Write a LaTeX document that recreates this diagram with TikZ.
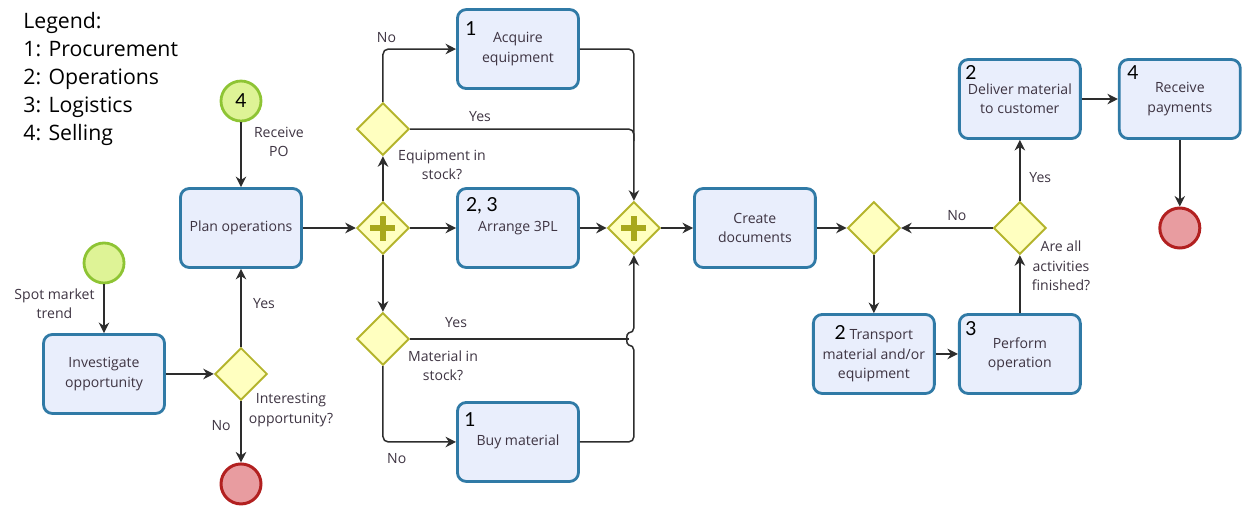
\documentclass[tikz,border=0pt]{standalone}
\usepackage{fontspec}
\setmainfont{Open Sans}
\newfontfamily\legendfont{Lato}
\usetikzlibrary{positioning, arrows.meta, shapes.geometric, calc}

\definecolor{taskfill}{RGB}{233,238,252}
\definecolor{taskline}{RGB}{48,122,166}
\definecolor{gatefill}{RGB}{255,255,192}
\definecolor{gateline}{RGB}{180,180,44}
\definecolor{plusc}{RGB}{168,168,28}
\definecolor{startfill}{RGB}{222,243,150}
\definecolor{startline}{RGB}{142,196,52}
\definecolor{endfill}{RGB}{232,156,160}
\definecolor{endline}{RGB}{178,32,32}
\definecolor{txt}{RGB}{62,52,66}
\definecolor{flowc}{RGB}{45,45,45}

\newcommand{\tasknum}[1]{{\legendfont\fontsize{11}{12}\selectfont\color{black}#1}}

\begin{document}
\begin{tikzpicture}[
    x=0.02cm, y=-0.02cm,
    on grid,
    task/.style={
        rectangle,
        rounded corners=5pt,
        draw=taskline,
        fill=taskfill,
        line width=1.6pt,
        minimum width=2.42cm,
        minimum height=1.58cm,
        align=center,
        text=txt,
        font=\fontsize{8}{11}\selectfont
    },
    gate/.style={
        diamond,
        draw=gateline,
        fill=gatefill,
        line width=1.1pt,
        minimum width=1.05cm,
        minimum height=1.05cm,
        inner sep=0pt
    },
    plusgate/.style={
        gate,
        path picture={
            \draw[plusc, line width=3.6pt]
            ([xshift=-0.25cm]path picture bounding box.center) -- ([xshift=0.25cm]path picture bounding box.center)
            ([yshift=-0.25cm]path picture bounding box.center) -- ([yshift=0.25cm]path picture bounding box.center);
        }
    },
    startev/.style={
        circle,
        draw=startline,
        fill=startfill,
        line width=1.6pt,
        minimum size=0.8cm,
        inner sep=0pt
    },
    endev/.style={
        circle,
        draw=endline,
        fill=endfill,
        line width=1.7pt,
        minimum size=0.8cm,
        inner sep=0pt
    },
    num/.style={
        inner sep=0pt,
        font=\legendfont\fontsize{11}{12}\selectfont
    },
    lbl/.style={
        inner sep=1pt,
        align=center,
        text=txt,
        font=\fontsize{8}{11}\selectfont
    },
    flow/.style={
        draw=flowc,
        line width=0.85pt,
        rounded corners=3pt,
        -{Stealth[length=6pt, width=6pt]}
    },
    line/.style={
        draw=flowc,
        line width=0.85pt,
        rounded corners=3pt
    }
]

\useasboundingbox (0,0) rectangle (1244,507);

% legend
\node[anchor=north west, inner sep=0pt, align=left,
      font=\fontsize{12.1}{15.9}\selectfont] (legend) at (23,12)
    {Legend:\\1: Procurement\\2: Operations\\3: Logistics\\4: Selling};

% start of the process
\node[task] (plan) at (241,228) {Plan operations};
\node[startev, above=2.54cm of plan] (st4) {\tasknum{4}};
\node[gate, below=2.92cm of plan] (gint) {};
\node[endev, below=2.2cm of gint] (endA) {};
\node[task, left=2.74cm of gint] (inv) {Investigate\\opportunity};
\node[startev, above=2.22cm of inv] (st0) {};

% parallel part
\node[plusgate, right=2.84cm of plan] (pg1) {};
\node[gate, above=1.98cm of pg1] (geq) {};
\node[task, above right=1.6cm and 2.7cm of geq] (acq) {Acquire\\equipment};
\node[task, right=2.7cm of pg1] (a3pl) {Arrange 3PL};
\node[gate, below=2.22cm of pg1] (gmat) {};
\node[task, below right=2.06cm and 2.7cm of gmat] (buy) {Buy material};
\node[plusgate, right=2.32cm of a3pl] (pg2) {};

% task numbers
\node[num] (acqn) at ([shift={(15,20)}]acq.north west) {1};
\node[num] (a3pln) at ([shift={(26,19)}]a3pl.north west) {2, 3};
\node[num] (buyn) at ([shift={(14,18)}]buy.north west) {1};

% gateway questions
\node[lbl] (gintq) at (291,410) {Interesting\\opportunity?};
\node[lbl] (geqq) at (442,165) {Equipment in\\stock?};
\node[lbl] (gmatq) at (443,366) {Material in\\stock?};

% end part
\node[task, right=2.42cm of pg2] (cdoc) {Create\\documents};
\node[gate, right=2.38cm of cdoc] (gmg) {};
\node[gate, right=2.92cm of gmg] (gfin) {};
\node[task, below=2.52cm of gfin] (perf) {Perform\\operation};
\node[task, left=2.92cm of perf] (trn) {\tasknum{2} Transport\\material and/or\\equipment};
\node[task, above=2.58cm of gfin] (del) {Deliver material\\to customer};
\node[task, right=3.2cm of del] (rcv) {Receive\\payments};
\node[endev, below=2.58cm of rcv] (endB) {};

\node[num] (perfn) at ([shift={(13,15)}]perf.north west) {3};
\node[num] (deln) at ([shift={(13,14)}]del.north west) {2};
\node[num] (rcvn) at ([shift={(15,14)}]rcv.north west) {4};
\node[lbl] (gfinq) at (1061,266) {Are all\\activities\\finished?};

% joins on the right of the parallel part
\coordinate (jeq) at ($(pg2.north |- geq.east)+(0,12)$);
\coordinate (hopT) at ($(pg2.south |- gmat.east)+(0,-6)$);
\coordinate (hopB) at ($(pg2.south |- gmat.east)+(0,6)$);
\coordinate (hopL) at ($(pg2.south |- gmat.east)+(-5,0)$);

% flows
\draw[flow] (st4) -- node[lbl, pos=0.3, right=6pt] {Receive\\PO} (plan);
\draw[flow] (st0) -- node[lbl, pos=0.4, left=4pt] {Spot market\\trend} (inv);
\draw[flow] (inv) -- (gint);
\draw[flow] (gint) -- node[lbl, pos=0.55, right=5.5pt] {Yes} (plan);
\draw[flow] (gint) -- node[lbl, pos=0.4, left=4.5pt] {No} (endA);

\draw[flow] (plan) -- (pg1);
\draw[flow] (pg1) -- (geq);
\draw[flow] (geq.north) |- node[lbl, pos=0.5, above=2pt, xshift=2pt] {No} (acq.west);
\draw[line] (geq.east) -| node[lbl, pos=0.156, above=3pt] {Yes} (jeq);
\draw[flow] (acq.east) -| (pg2.north);
\draw[flow] (pg1) -- (a3pl);
\draw[flow] (a3pl) -- (pg2);
\draw[flow] (pg1) -- (gmat);
\draw[flow] (gmat.south) |- node[lbl, pos=0.5, below right=5pt and 1pt] {No} (buy.west);
\draw[line] (gmat.east) -- node[lbl, pos=0.21, above=5pt] {Yes} (hopL);
\draw[flow] (buy.east) -| (hopB) .. controls +(-8,0) and +(-8,0) .. (hopT) -- (pg2.south);

\draw[flow] (pg2) -- (cdoc);
\draw[flow] (cdoc) -- (gmg);
\draw[flow] (gmg) -- (trn);
\draw[flow] (trn) -- (perf);
\draw[flow] (perf) -- (gfin);
\draw[flow] (gfin) -- node[lbl, pos=0.39, above=3pt] {No} (gmg);
\draw[flow] (gfin) -- node[lbl, pos=0.38, right=4pt] {Yes} (del);
\draw[flow] (del) -- (rcv);
\draw[flow] (rcv) -- (endB);

\end{tikzpicture}
\end{document}
